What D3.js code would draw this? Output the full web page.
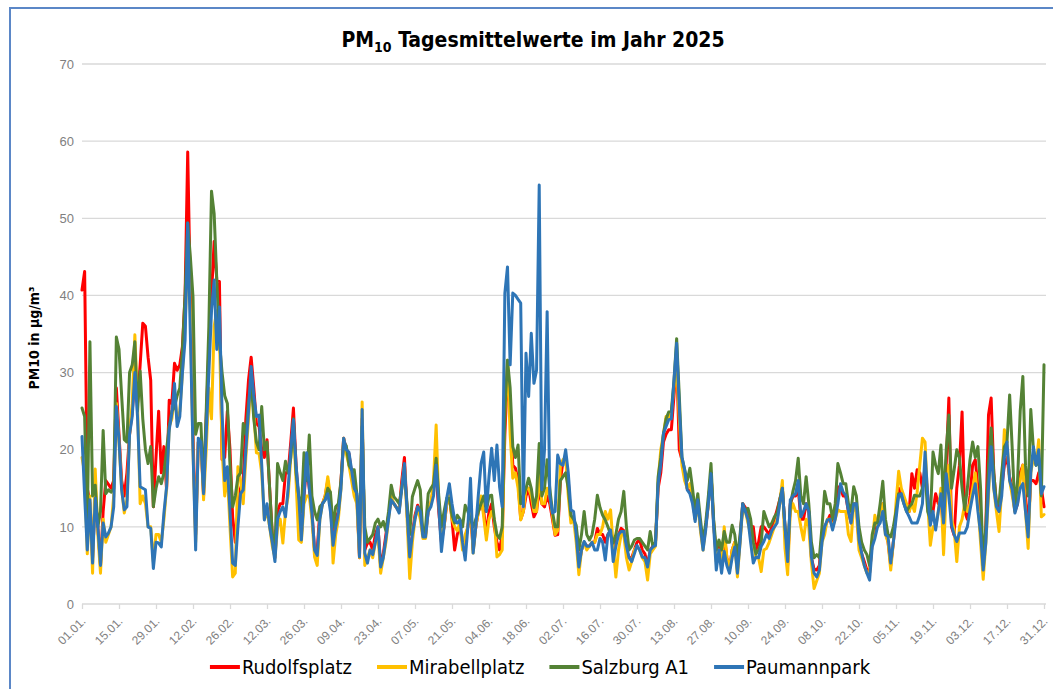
<!DOCTYPE html>
<html>
<head>
<meta charset="utf-8">
<script src="https://cdn.jsdelivr.net/npm/d3@7"></script>
<style>
  body { margin: 0; background: #fff; }
</style>
</head>
<body>
<script>
const stations = ["Rudolfsplatz", "Mirabellplatz", "Salzburg A1", "Paumannpark"];
const colors = ["#FF0000", "#FFC000", "#548235", "#2E75B6"];
const yTicks = [0, 10, 20, 30, 40, 50, 60, 70];
const xTickLabels = ["01.01.", "15.01.", "29.01.", "12.02.", "26.02.", "12.03.", "26.03.", "09.04.", "23.04.",
  "07.05.", "21.05.", "04.06.", "18.06.", "02.07.", "16.07.", "30.07.", "13.08.", "27.08.", "10.09.",
  "24.09.", "08.10.", "22.10.", "05.11.", "19.11.", "03.12.", "17.12.", "31.12."];

// daily means, 01.01. - 31.12.2025, 14 days per row
const rudolfsplatz = [
  40.7, 43.1, 15, 13, 6, 14, 10, 5, 12, 16, 15.5, 15, 16, 28,
  22, 16, 14, 17, 22, 25, 29, 26, 31, 36.4, 36, 32, 29, 12.6,
  19, 25, 17, 20.4, 14.8, 26.4, 26, 31.2, 30.3, 31, 33.4, 40, 58.6, 40,
  22, 9, 21, 21, 14, 24, 33, 40, 47, 42, 41.8, 18.7, 19, 25,
  20, 11.3, 8, 12, 15, 16, 24, 29, 32, 28, 23.4, 23, 20, 19,
  21.3, 15, 9, 6, 12, 13, 13, 17, 17, 21, 25.4, 18, 13, 9,
  14, 18, 15, 12, 7, 7, 12, 13, 14, 16, 13, 8, 11, 12,
  16, 21.5, 20, 19.5, 17, 15, 14, 6, 24, 7, 7.9, 8, 7, 9,
  10, 5, 6.5, 9, 11.5, 13.5, 13, 12.5, 12, 16, 19, 12, 6, 9,
  11.5, 12.8, 12, 9, 9, 12, 13, 15, 17, 12, 8, 10, 13, 14,
  11, 7, 9, 10, 8, 8, 10, 12, 7, 10, 12, 13, 12, 9,
  12, 13, 10, 8, 7, 9, 22, 30, 25, 18, 17.6, 16, 11, 12,
  14, 15, 13, 11.3, 12, 15, 13, 12.6, 14, 13, 11, 8.9, 9, 16,
  18.5, 19, 16, 11, 11, 9.5, 5, 7, 8, 7.5, 7.5, 8, 8, 9.8,
  9, 9, 8, 9, 9.5, 7, 8, 9, 9.8, 9.5, 7, 6, 6, 7,
  8, 8.3, 7, 6.5, 5, 7, 7.5, 8, 15, 17, 21, 22, 22.6, 22.6,
  27, 32, 20, 18.7, 17, 15, 14.5, 14, 11, 13.5, 10, 7.5, 10, 13,
  17, 10.5, 6, 8, 5, 9, 6, 4.5, 7, 8, 4.5, 8.5, 13, 12.5,
  11, 10, 10, 7, 8, 10, 10, 9.5, 9, 10, 11, 12.2, 13.5, 15,
  10, 5, 13, 14, 14, 15, 11, 11, 13, 12, 6, 4.5, 4.4, 5,
  9, 10, 10.7, 11.5, 10, 12, 15.2, 15, 14, 14, 12, 10.5, 13, 13,
  8, 6.5, 5.5, 4.4, 4, 8, 10, 10.5, 11, 13, 9.5, 8, 5, 8,
  12, 15, 14.5, 13.5, 12.5, 12, 16.9, 15, 17.4, 17, 15, 17.8, 14, 10.5,
  12, 14.3, 13, 14, 9, 18, 26.7, 10, 8.9, 15, 18, 24.9, 12, 11,
  14, 18, 18.7, 15, 10, 4.5, 10, 24.5, 26.7, 17, 13, 12, 15, 18,
  19, 16.5, 15, 12, 13, 17, 18, 14, 10, 16, 16, 15.6, 17, 15,
  12.6
];

const mirabellplatz = [
  19, 17, 6.5, 14, 4, 17.5, 9, 4, 11, 8, 9, 10, 14, 26,
  21, 15, 11.8, 13.5, 22, 26, 34.9, 26, 13, 14, 13, 10, 10, 5.5,
  9, 9, 8, 11, 15, 23, 24, 27, 24, 25, 30, 36, 46, 38,
  20, 8, 21, 21, 13.5, 20, 28, 24, 36, 38, 35, 20, 14, 17,
  10, 3.5, 4, 17.8, 16, 13, 19, 24, 29, 25, 19.6, 19.5, 17, 11,
  12, 10, 7.5, 6, 10, 11, 7.9, 12, 14, 19, 23, 16, 8.3, 8,
  13, 14, 14, 11, 6.1, 5, 11, 13, 14, 16.5, 14, 5.3, 9, 11,
  15, 21.5, 19.5, 18, 16, 14, 13, 6, 26.2, 5, 6, 7, 6, 8,
  9, 4, 6, 8, 11, 14, 13, 12.5, 12, 15, 18, 11, 3.3, 8,
  11, 12.5, 11, 8.5, 8.5, 12.5, 13, 16, 23.2, 13, 9, 10, 13, 14,
  11, 10, 9.5, 10.5, 7, 9, 10, 13, 6.6, 10, 12, 14, 11.3, 8.3,
  11, 12, 11, 6.1, 6.4, 7, 25, 31.6, 22, 16.3, 17, 15, 10.9, 12,
  15, 15, 14, 12, 12, 17, 13, 13, 15, 14, 11.5, 9, 9.5, 18,
  18.7, 19, 14, 10.5, 11, 8, 3.8, 7, 8, 7, 7.5, 8, 8, 9,
  9, 10, 12, 11, 12.2, 7.5, 3.5, 7, 9, 9, 6, 4.4, 5.5, 7,
  7.5, 7, 6, 5.5, 3.1, 6.5, 7, 7.5, 16, 20, 22, 24.3, 24, 25,
  28, 31, 24, 18, 16, 15, 15.6, 14, 11, 13, 9.5, 7, 10, 13,
  17, 10.5, 5.5, 7, 5, 10, 6, 4.5, 7, 8, 3.5, 8, 12.5, 12,
  10.5, 9, 8, 6, 6, 4.2, 7, 7.2, 8, 9, 10, 11, 13, 16,
  7.2, 3.8, 12, 13, 12, 12, 10, 8.3, 11, 10, 5.3, 2, 3, 4,
  8, 9, 11, 11, 10, 11, 12.2, 12, 12, 12, 9, 8.1, 13, 12,
  7, 6, 5, 4, 4, 8, 11.5, 10, 11, 13, 9, 8, 4.4, 8,
  13, 17.2, 15, 14, 13, 12, 13, 12, 14.5, 18, 21.5, 21, 13, 7.6,
  10, 10, 12, 15, 6.4, 15, 18, 11, 9.6, 5.5, 10, 11, 13, 12,
  13, 15, 17, 13, 8, 3.2, 8, 14, 22, 15, 12, 9.4, 15, 22.6,
  21, 16, 14, 12, 14, 16, 18, 12, 7.2, 17, 19, 18, 21.3, 11.3,
  11.6
];

const salzburgA1 = [
  25.4, 24.3, 10, 34, 14, 15.4, 10, 12, 22.5, 14.3, 14.8, 14.5, 15, 34.6,
  33, 27, 21.3, 21, 30, 31, 34, 25, 30.2, 24, 20, 18.2, 20.4, 12.6,
  15, 16.5, 15.6, 17, 20, 23, 25, 25.5, 27, 28, 33, 40, 49.4, 45,
  39.8, 22, 23.4, 23.4, 15, 25, 36, 53.5, 50.6, 42, 34, 30, 27, 26,
  18, 12.6, 14, 16.5, 17, 23.4, 22, 26, 29, 24, 21, 20, 25.6, 20,
  21, 15, 9, 7, 18.2, 17, 16, 18.5, 17, 19, 24, 17, 14, 12,
  19.6, 16, 21.9, 14, 12, 10.9, 12.6, 13, 13.5, 15, 14.5, 10, 12.6, 13,
  16, 21, 20.5, 18, 17.4, 17.4, 14.3, 9, 23, 10, 8, 8.5, 9, 10.5,
  11, 10, 10.7, 9.5, 12, 15.4, 13.9, 13.5, 13, 15, 17, 13, 9, 13.9,
  15, 16, 14.8, 9, 10, 14.3, 15, 15.5, 18.9, 14, 10, 12, 13.7, 13.7,
  11.5, 10.5, 11.5, 11, 10, 12.8, 12, 11, 10, 11, 12, 13, 14, 12,
  14, 14.1, 11, 9, 8.5, 10, 25, 31.6, 28, 20.4, 19, 20.6, 13, 14,
  15, 16.3, 15, 12.5, 14, 20.8, 14, 15, 18.7, 15, 12, 10, 10, 16,
  16.5, 17, 15, 11.5, 11, 10.2, 7, 9, 12, 9, 8.3, 9, 11, 14.1,
  12.5, 11.5, 10.9, 10, 9, 7.9, 9, 11, 12, 14.6, 10, 7, 7.5, 8.3,
  8.5, 8.5, 8, 7.5, 7, 9.4, 7.5, 8, 16.5, 19, 22, 24, 24.9, 25,
  29, 34.4, 27, 19, 17.5, 16, 17.6, 15, 12, 14.3, 11, 8, 10.5, 14,
  18.2, 11, 7, 8.3, 7, 9.4, 8, 8, 10.2, 9, 6, 9, 13, 12,
  12.4, 11, 8, 6.5, 7, 8, 12, 11, 10, 10.5, 11.3, 11.8, 13.5, 15,
  10, 7, 12.8, 14.6, 16, 18.9, 14, 13, 16.5, 13, 8, 6, 6.4, 6,
  10, 14.6, 13, 13, 11, 13, 18.2, 17, 15.6, 15.6, 13, 12, 15.2, 14,
  10, 8, 7, 6.4, 5, 9, 10.5, 10.5, 13, 15.9, 11, 9, 8.7, 10,
  12, 14.3, 14, 13, 12, 12.6, 13, 14.1, 14, 14, 15, 17, 12, 11,
  19.7, 18, 16.9, 20.6, 13, 20, 24.5, 15, 17.4, 20, 19, 15, 12.2, 15,
  18.7, 21, 19, 20.4, 15, 5, 10, 18, 22.8, 17, 13, 13, 17, 20.4,
  21, 27.1, 20, 12.2, 16, 25, 29.5, 18, 14, 25.2, 20, 18, 18.9, 14,
  31
];

const paumannpark = [
  21.7, 14, 7, 13.5, 5.3, 13.7, 10, 5, 10.5, 8.7, 9.2, 10, 12.6, 25.6,
  21.3, 14.8, 12.2, 12.6, 22, 24.3, 30, 24.3, 15.2, 15, 14.8, 10, 9.8, 4.6,
  8, 7.9, 7.4, 11.8, 15.2, 22.6, 24.7, 28.6, 23, 24.3, 30, 34.2, 49.4, 35,
  20, 7, 21.5, 21, 14.3, 22, 30, 38, 42, 33, 38.5, 25, 16, 17.8,
  12, 5.3, 5, 10, 14.3, 14.8, 20, 25, 30.8, 27, 24.3, 24.5, 18, 10.9,
  13, 10, 8, 5.5, 11, 12, 12.6, 11.3, 15, 20, 23.9, 18, 14, 8.3,
  14, 19.6, 15, 11.8, 7, 6.3, 11, 13, 13.5, 14.3, 12, 7.6, 10, 11.8,
  15, 21.5, 20, 19.7, 17.4, 15, 14.3, 6.1, 25.2, 6.6, 5.3, 7, 6.4, 8,
  10, 4.8, 6, 8.5, 11, 13.5, 13, 12.5, 11.8, 15, 18.2, 12, 6.1, 9,
  11, 12.6, 12, 8.7, 8.7, 12, 12.6, 14, 18, 12.6, 6.8, 10, 13.7, 15.6,
  13, 10.9, 10.5, 10.9, 8, 5.7, 10, 16.3, 6.6, 10, 14.3, 18.2, 19.7, 12,
  16.5, 20.2, 16, 20.6, 15.2, 12.6, 40.3, 43.7, 31, 40.3, 40, 39.5, 39, 12.6,
  32.5, 26.9, 35.1, 28.6, 30.3, 54.3, 14.8, 20, 37.9, 14, 11.8, 12, 19.3, 18.2,
  18, 20, 17, 12.2, 12, 9, 4.8, 7, 8.1, 7.5, 7.5, 8, 7, 7,
  8.5, 8, 5.7, 9, 9.6, 5.5, 7.5, 9, 9.4, 9.4, 7.5, 6, 5.5, 6.5,
  7.6, 7, 6.1, 6, 4.8, 7, 7.4, 7.6, 15.6, 18, 22.1, 23, 23.9, 24,
  29, 33.8, 25.6, 19, 17.4, 14.8, 14.3, 13, 10.7, 13.5, 10, 7, 9.6, 13,
  16.9, 10, 4.4, 7, 4, 6.8, 5, 4, 6, 7.4, 4, 8, 13, 12,
  10.9, 8, 5.3, 6.1, 6, 7.5, 8.1, 9, 8.5, 9.5, 10, 10.5, 13, 15,
  10, 5.5, 13.5, 14, 14.3, 16, 11.3, 12, 13, 12, 6.1, 4, 3.5, 4.4,
  8, 10, 10.9, 11, 9.6, 11, 13, 15.6, 14.5, 14.1, 12, 10.5, 13, 13,
  8.3, 6.6, 5, 4, 3.1, 7.4, 8.5, 10, 10.5, 12, 9, 8.7, 5.3, 8,
  11, 14.1, 14.3, 13, 12, 11.3, 10.5, 10.5, 10.5, 11.5, 13, 19.7, 14, 10.2,
  12, 9.6, 12, 14.3, 10.5, 16.9, 14, 10.2, 9, 8.1, 9.2, 9.2, 9.2, 10,
  12.2, 14, 15.6, 12, 9.2, 4.4, 8, 15, 20.4, 15, 12.6, 12, 14, 19,
  21, 16, 14.8, 11.8, 13, 15, 15.6, 12, 8.7, 17, 20.4, 18, 20, 14.3,
  15.2
];

const series = [rudolfsplatz, mirabellplatz, salzburgA1, paumannpark];

const width = 1053;
const height = 689;
const plot = { left: 82, right: 1044, top: 64, bottom: 604 };

const svg = d3.select("body")
  .append("svg")
  .attr("width", width)
  .attr("height", height)
  .style("display", "block");

svg.append("rect")
  .attr("width", width)
  .attr("height", height)
  .attr("fill", "#fff");

// chart frame (left + top edge, the rest lies outside the picture)
svg.append("path")
  .attr("d", `M10,${height} V8 H${width}`)
  .attr("fill", "none")
  .attr("stroke", "#5B87C7")
  .attr("stroke-width", 2);

const x = d3.scaleLinear()
  .domain([0, rudolfsplatz.length - 1])
  .range([plot.left, plot.right]);

const y = d3.scaleLinear()
  .domain([0, 70])
  .range([plot.bottom, plot.top]);

// gridlines
svg.append("g")
  .selectAll("line")
  .data(yTicks)
  .enter()
  .append("line")
  .attr("x1", plot.left)
  .attr("x2", plot.right + 2)
  .attr("y1", d => y(d))
  .attr("y2", d => y(d))
  .attr("stroke", "#D9D9D9")
  .attr("stroke-width", 1.3);

// y axis labels
const yAxis = svg.append("g")
  .attr("transform", `translate(${plot.left - 8},0)`)
  .call(d3.axisLeft(y).tickValues(yTicks).tickSize(0).tickPadding(0));
yAxis.select(".domain").remove();
yAxis.selectAll("text")
  .attr("fill", "#7F7F7F")
  .attr("font-size", "13px")
  .attr("font-family", "Liberation Sans, Arial, sans-serif");

// x axis
const xAxis = svg.append("g")
  .attr("transform", `translate(0,${plot.bottom})`)
  .call(d3.axisBottom(x)
    .tickValues(d3.range(0, rudolfsplatz.length, 14))
    .tickFormat((d, i) => xTickLabels[i])
    .tickSize(5));
xAxis.select(".domain").remove();
xAxis.selectAll("line").attr("stroke", "#D9D9D9").attr("stroke-width", 1.3);
xAxis.selectAll("text")
  .attr("fill", "#7F7F7F")
  .attr("font-size", "12px")
  .attr("font-family", "Liberation Sans, Arial, sans-serif")
  .attr("text-anchor", "end")
  .attr("x", 0)
  .attr("y", 0)
  .attr("dy", "0.35em")
  .attr("transform", "translate(1,15) rotate(-45)");

// y axis title
svg.append("text")
  .attr("transform", "translate(39,338) rotate(-90)")
  .attr("text-anchor", "middle")
  .attr("font-size", "14px")
  .attr("font-weight", "bold")
  .attr("font-family", "DejaVu Sans Condensed, DejaVu Sans, sans-serif")
  .attr("fill", "#000")
  .text("PM10 in µg/m³");

// lines
const line = d3.line()
  .x((d, i) => x(i))
  .y(d => y(d));

svg.append("g")
  .selectAll("path")
  .data(series)
  .enter()
  .append("path")
  .attr("d", line)
  .attr("fill", "none")
  .attr("stroke", (d, i) => colors[i])
  .attr("stroke-width", 3)
  .attr("stroke-linejoin", "round")
  .attr("stroke-linecap", "round");

// title
const title = svg.append("text")
  .attr("x", 533)
  .attr("y", 47)
  .attr("text-anchor", "middle")
  .attr("font-size", "21px")
  .attr("font-weight", "bold")
  .attr("font-family", "DejaVu Sans Condensed, DejaVu Sans, sans-serif")
  .attr("fill", "#000");
title.append("tspan").text("PM");
title.append("tspan").attr("font-size", "14px").attr("dy", 5).text("10");
title.append("tspan").attr("dy", -5).text(" Tagesmittelwerte im Jahr 2025");

// legend
const legend = svg.append("g");
let lx = 0;
stations.forEach((s, i) => {
  const item = legend.append("g").attr("transform", `translate(${lx},0)`);
  item.append("line")
    .attr("x1", 0).attr("x2", 30)
    .attr("y1", 0).attr("y2", 0)
    .attr("stroke", colors[i])
    .attr("stroke-width", 4);
  const t = item.append("text")
    .attr("x", 32)
    .attr("y", 7)
    .attr("font-size", "20px")
    .attr("font-family", "DejaVu Sans Condensed, DejaVu Sans, sans-serif")
    .attr("fill", "#000")
    .text(s);
  lx += 32 + t.node().getComputedTextLength() + 25;
});
legend.attr("transform", `translate(${540 - (lx - 25) / 2},667)`);
</script>
</body>
</html>
